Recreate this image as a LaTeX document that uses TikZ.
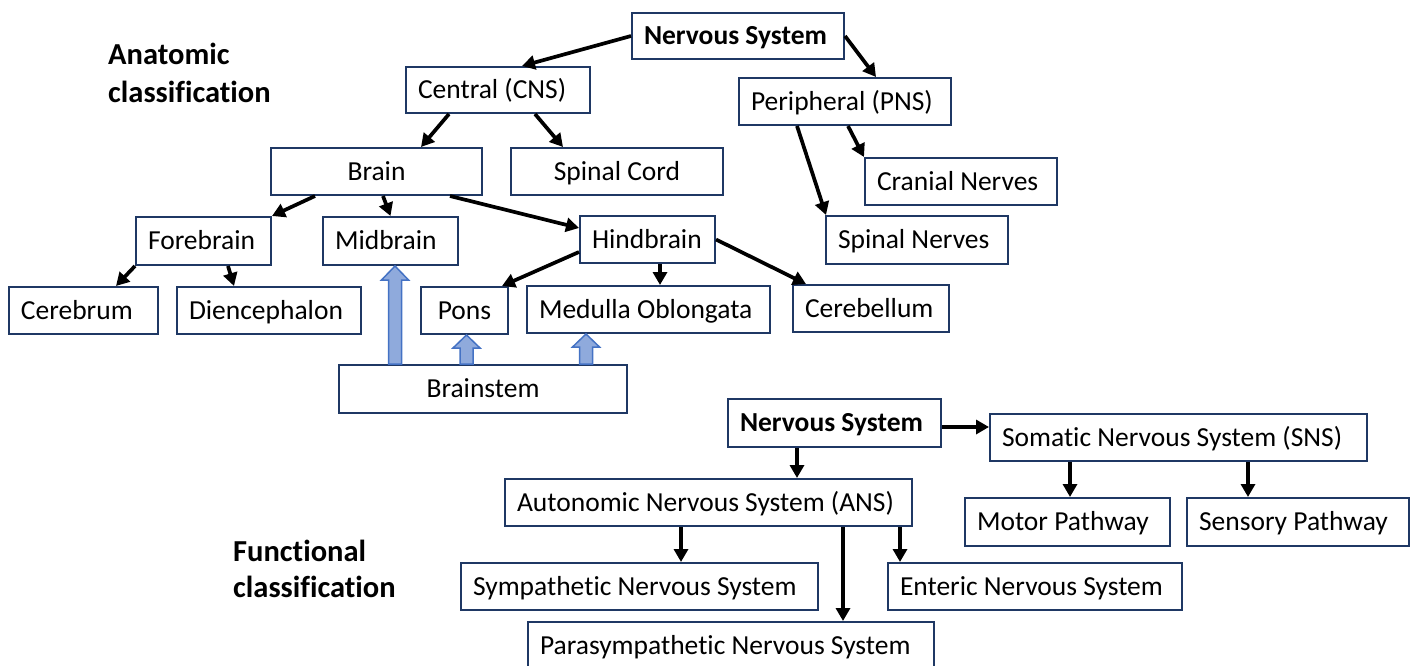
\documentclass[tikz,border=0pt]{standalone}
\usepackage{fontspec}
\setmainfont{Carlito}[Ligatures={NoCommon}]
\usetikzlibrary{arrows.meta,calc}
\definecolor{navy}{HTML}{1F3864}
\definecolor{blkfill}{HTML}{8FAADC}
\definecolor{blkdraw}{HTML}{4472C4}
\newcommand{\padl}[1]{\spaceskip=0pt\xspaceskip=0pt\relax\hspace*{12pt}\mbox{#1}}
\newcommand{\ctr}[1]{\spaceskip=0pt\xspaceskip=0pt\relax\mbox{#1}}
\newcommand{\blkup}[3]{%
  \draw[blk] ($(#1)+(-6.5,0)$) -- ($(#2)+(-6.5,#3)$) -- ($(#2)+(-13.5,#3)$) -- (#2)
    -- ($(#2)+(13.5,#3)$) -- ($(#2)+(6.5,#3)$) -- ($(#1)+(6.5,0)$) -- cycle;}
\begin{document}
\begin{tikzpicture}[x=1pt,y=-1pt,
  box/.style={draw=navy, line width=2pt, anchor=north west, inner sep=0pt, align=left,
    text height=17.7pt, text depth=0pt, font=\fontsize{27.5}{33}\selectfont},
  cbox/.style={box, align=center},
  bbox/.style={box, font=\fontsize{27.5}{33}\selectfont\bfseries},
  lbl/.style={anchor=base west, inner sep=0pt, font=\fontsize{30.5}{38}\selectfont\bfseries},
  arr/.style={line width=3.7pt, -{Triangle[length=13pt,width=14pt]}},
  blk/.style={fill=blkfill, draw=blkdraw, line width=1.5pt, line join=miter}
]
\fill[white] (0,0) rectangle (1416,666);
\useasboundingbox (0,0) rectangle (1416,666);

% labels
\node[lbl] (anat1) at (108,65) {Anatomic};
\node[lbl] (anat2) at (108,103) {classification};
\node[lbl] (func1) at (233,561) {Functional};
\node[lbl] (func2) at (233,597) {classification};

% anatomic boxes
\node[bbox, text width=212pt, minimum height=46pt] (ns1) at (631,12) {\padl{Nervous System}};
\node[box, text width=184pt, minimum height=46pt] (cns) at (405,66) {\padl{Central (CNS)}};
\node[box, text width=212pt, minimum height=47pt] (pns) at (738,77) {\padl{Peripheral (PNS)}};
\node[cbox, text width=211pt, minimum height=47pt] (brain) at (270,147) {\ctr{Brain}};
\node[cbox, text width=212pt, minimum height=47pt] (spcord) at (510,147) {\ctr{Spinal Cord}};
\node[box, text width=192pt, minimum height=47pt] (cranial) at (864,157) {\padl{Cranial Nerves}};
\node[box, text width=182pt, minimum height=48pt] (spnerves) at (825,215) {\padl{Spinal Nerves}};
\node[box, text width=135pt, minimum height=48pt] (fore) at (135,216) {\padl{Forebrain}};
\node[box, text width=135pt, minimum height=48pt] (mid) at (322,216) {\padl{Midbrain}};
\node[box, text width=135pt, minimum height=47pt] (hind) at (579,215) {\padl{Hindbrain}};
\node[box, text width=149pt, minimum height=47pt] (cerebrum) at (8,286) {\padl{Cerebrum}};
\node[box, text width=184pt, minimum height=47pt] (dien) at (176,286) {\padl{Diencephalon}};
\node[cbox, text width=87pt, minimum height=47pt] (pons) at (420,286) {\ctr{Pons}};
\node[box, text width=243pt, minimum height=47pt] (medulla) at (526,285) {\padl{Medulla Oblongata}};
\node[box, text width=156pt, minimum height=47pt] (cerebellum) at (792,284) {\padl{Cerebellum}};
\node[cbox, text width=288pt, minimum height=48pt] (brainstem) at (338,364) {\ctr{Brainstem}};

% functional boxes
\node[bbox, text width=213pt, minimum height=48pt] (ns2) at (727,398) {\padl{Nervous System}};
\node[box, text width=377pt, minimum height=47pt] (sns) at (989,413) {\padl{Somatic Nervous System (SNS)}};
\node[box, text width=407pt, minimum height=47pt] (ans) at (504,478) {\padl{Autonomic Nervous System (ANS)}};
\node[box, text width=205pt, minimum height=48pt] (motor) at (964,497) {\padl{Motor Pathway}};
\node[box, text width=222pt, minimum height=48pt] (sensory) at (1186,497) {\padl{Sensory Pathway}};
\node[box, text width=357pt, minimum height=47pt] (symp) at (460,562) {\padl{Sympathetic Nervous System}};
\node[box, text width=294pt, minimum height=47pt] (enteric) at (887,562) {\padl{Enteric Nervous System}};
\node[box, text width=406pt, minimum height=48pt] (para) at (527,621) {\padl{Parasympathetic Nervous System}};

% anatomic arrows
\draw[arr] (ns1.west) -- ($(cns.north)+(24,0)$);
\draw[arr] (ns1.east) -- ($(pns.north)+(31,0)$);
\draw[arr] ($(cns.south)+(-49,0)$) -- ($(brain.north)+(44.5,0)$);
\draw[arr] ($(cns.south)+(37,0)$) -- ($(spcord.north)+(-54,0)$);
\draw[arr] ($(pns.south)+(-48,0)$) -- ($(spnerves.north west)+(1,0)$);
\draw[arr] ($(pns.south)+(3,0)$) -- (cranial.north west);
\draw[arr] ($(brain.south)+(-61.5,0)$) -- (fore.north east);
\draw[arr] ($(brain.south)+(6.5,0)$) -- (mid.north);
\draw[arr] ($(brain.south)+(73.5,0)$) -- ($(hind.west)+(0,-11.5)$);
\draw[arr] (fore.south west) -- ($(cerebrum.north)+(32.5,0)$);
\draw[arr] ($(fore.south)+(24.5,0)$) -- ($(dien.north)+(-35,0)$);
\draw[arr] ($(hind.west)+(0,12.5)$) -- ($(pons.north east)+(-7,0)$);
\draw[arr] ($(hind.south)+(12.5,0)$) -- ($(medulla.north)+(11.5,0)$);
\draw[arr] (hind.east) -- ($(cerebellum.north)+(-65,0)$);

% brainstem block arrows
\coordinate (bm) at ($(brainstem.north -| mid.south)+(4.5,0)$);
\coordinate (tm) at ($(mid.south)+(4.5,0)$);
\coordinate (bp) at ($(brainstem.north -| pons.south)+(2,0)$);
\coordinate (tp) at ($(pons.south)+(2,0)$);
\coordinate (bmo) at ($(brainstem.north -| medulla.south)+(-62.5,0)$);
\coordinate (tmo) at ($(medulla.south)+(-62.5,0)$);
\blkup{bm}{tm}{14}
\blkup{bp}{tp}{13}
\blkup{bmo}{tmo}{13}

% functional arrows
\draw[arr] ($(ns2.south)+(-37.5,0)$) -- ($(ans.north)+(88.5,0)$);
\draw[arr] ($(ns2.east)+(0,4)$) -- ($(sns.west)+(0,-10.5)$);
\draw[arr] ($(sns.south)+(-108.5,0)$) -- ($(motor.north)+(2.5,0)$);
\draw[arr] ($(sns.south)+(69.5,0)$) -- ($(sensory.north)+(-50,0)$);
\draw[arr] ($(ans.south)+(-27.5,0)$) -- ($(symp.north)+(41.5,0)$);
\draw[arr] ($(ans.south)+(134.5,0)$) -- ($(para.north)+(112,0)$);
\draw[arr] ($(ans.south)+(191.5,0)$) -- ($(enteric.north)+(-135,0)$);
\end{tikzpicture}
\end{document}
